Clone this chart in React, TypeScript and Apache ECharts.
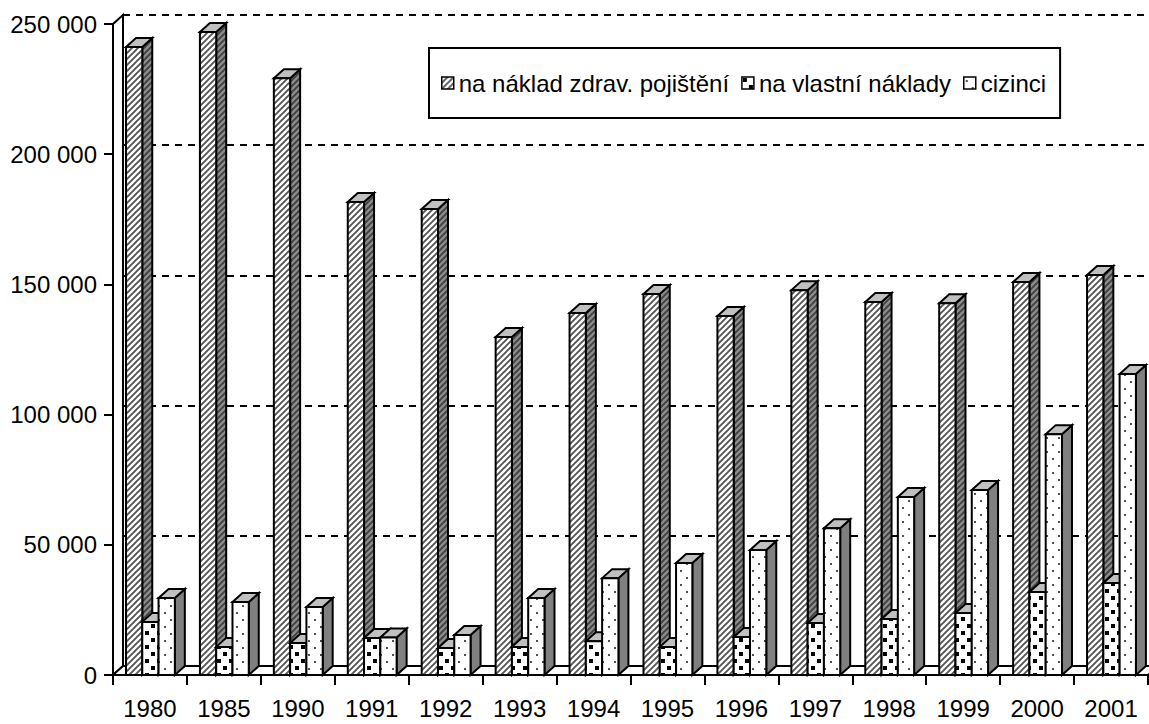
import React, { useEffect, useRef } from 'react';
import * as echarts from 'echarts';

const categories = ['1980', '1985', '1990', '1991', '1992', '1993', '1994', '1995', '1996', '1997', '1998', '1999', '2000', '2001'];
const seriesNames = ['na náklad zdrav. pojištění', 'na vlastní náklady', 'cizinci'];
const insured = [241200, 246900, 229200, 181600, 179000, 129800, 139000, 146300, 137900, 147800, 143200, 142800, 150900, 153600];
const ownCost = [20400, 10800, 12300, 14200, 10400, 10800, 13000, 10800, 14600, 20000, 21500, 23800, 31900, 35300];
const foreigners = [29600, 28000, 26100, 14400, 15400, 29600, 37200, 43000, 48000, 56400, 68400, 71000, 92500, 115600];
const yMin = 0;
const yMax = 250000;
const yInterval = 50000;

const DX = 10;
const DY = -9;
const GAP = 13 / 74;
const BW = 16.3 / 74;
const SANS = "'Liberation Sans', Arial, sans-serif";

function makePattern(w: number, h: number, draw: (ctx: CanvasRenderingContext2D) => void) {
  const c = document.createElement('canvas');
  c.width = w;
  c.height = h;
  const ctx = c.getContext('2d') as CanvasRenderingContext2D;
  draw(ctx);
  return { image: c.toDataURL(), repeat: 'repeat', imageWidth: w, imageHeight: h } as any;
}

function hatch(bg: string, fg: string) {
  return makePattern(6, 6, (ctx) => {
    ctx.fillStyle = bg;
    ctx.fillRect(0, 0, 6, 6);
    ctx.strokeStyle = fg;
    ctx.lineWidth = 1.9;
    ctx.beginPath();
    ctx.moveTo(-1, 7);
    ctx.lineTo(7, -1);
    ctx.moveTo(-1, 1);
    ctx.lineTo(1, -1);
    ctx.moveTo(5, 7);
    ctx.lineTo(7, 5);
    ctx.stroke();
  });
}

function squares(bg: string, fg: string) {
  return makePattern(12, 14, (ctx) => {
    ctx.fillStyle = bg;
    ctx.fillRect(0, 0, 12, 14);
    ctx.fillStyle = fg;
    ctx.fillRect(1, 1, 4, 4);
    ctx.fillRect(7, 8, 4, 4);
  });
}

function dots(bg: string, fg: string) {
  return makePattern(12, 14, (ctx) => {
    ctx.fillStyle = bg;
    ctx.fillRect(0, 0, 12, 14);
    ctx.fillStyle = fg;
    ctx.fillRect(2, 3, 2, 2);
    ctx.fillRect(8, 10, 2, 2);
  });
}

function makeBarRender(k: number, pats: { front: any; side: any; top: any }) {
  return (params: any, api: any) => {
    const ci = api.value(0);
    const v = api.value(1);
    const base = api.coord([ci, 0]);
    const top = api.coord([ci, v]);
    const band = api.size([1, 0])[0];
    const w = band * BW;
    const x0 = base[0] - band / 2 + band * GAP + k * w;
    const x1 = x0 + w;
    const y0 = top[1];
    const yb = base[1];
    const stroke = { stroke: '#000', lineWidth: 2, lineJoin: 'miter' };
    return {
      type: 'group',
      children: [
        {
          type: 'polygon',
          shape: { points: [[x1, y0], [x1 + DX, y0 + DY], [x1 + DX, yb + DY], [x1, yb]] },
          style: { fill: pats.side, ...stroke },
        },
        {
          type: 'polygon',
          shape: { points: [[x0, y0], [x0 + DX, y0 + DY], [x1 + DX, y0 + DY], [x1, y0]] },
          style: { fill: pats.top, ...stroke },
        },
        {
          type: 'rect',
          shape: { x: x0, y: y0, width: w, height: yb - y0 },
          style: { fill: pats.front, ...stroke },
        },
      ],
    };
  };
}

export default function App() {
  const ref = useRef<HTMLDivElement>(null);
  useEffect(() => {
    if (!ref.current) return;
    const chart = echarts.init(ref.current, null, { renderer: 'svg' });

    const p1 = { front: hatch('#ffffff', '#555555'), side: hatch('#8c8c8c', '#404040'), top: '#c0c0c0' };
    const p2 = { front: squares('#ffffff', '#000000'), side: squares('#808080', '#000000'), top: '#c0c0c0' };
    const p3 = { front: dots('#ffffff', '#505050'), side: '#808080', top: '#c0c0c0' };
    const pats = [p1, p2, p3];
    const values = [insured, ownCost, foreigners];

    const frameRender = (params: any) => {
      const cs = params.coordSys;
      const xl = cs.x;
      const xr = cs.x + cs.width;
      const yt = cs.y;
      const yb = cs.y + cs.height;
      const st = { stroke: '#000', lineWidth: 2, fill: '#fff' };
      return {
        type: 'group',
        children: [
          {
            type: 'polygon',
            shape: { points: [[xl, yb], [xl, yt], [xl + DX, yt + DY], [xl + DX, yb + DY]] },
            style: st,
          },
          {
            type: 'polygon',
            shape: { points: [[xl, yb], [xr, yb], [xr + DX, yb + DY], [xl + DX, yb + DY]] },
            style: st,
          },
        ],
      };
    };

    const option: any = {
      animation: false,
      backgroundColor: '#ffffff',
      grid: [
        { left: 113, top: 24, width: 1035, height: 651 },
        { left: 113 + DX, top: 24 + DY, width: 1035, height: 651 },
      ],
      legend: {
        data: seriesNames,
        left: 429,
        top: 48,
        orient: 'horizontal',
        padding: [23, 14, 23, 12],
        itemGap: 12,
        itemWidth: 12,
        itemHeight: 12,
        icon: 'rect',
        borderColor: '#000',
        borderWidth: 2,
        borderRadius: 0,
        backgroundColor: '#fff',
        textStyle: { fontSize: 24, color: '#000', fontFamily: SANS },
        itemStyle: { borderColor: '#000', borderWidth: 1.5 },
      },
      xAxis: [
        {
          type: 'category',
          gridIndex: 0,
          data: categories,
          boundaryGap: true,
          axisLine: { show: true, lineStyle: { color: '#000', width: 2 } },
          axisTick: { show: true, alignWithLabel: false, length: 10, lineStyle: { color: '#000', width: 2 } },
          axisLabel: { color: '#000', fontSize: 24, fontFamily: SANS, margin: 21, interval: 0, hideOverlap: false },
          splitLine: { show: false },
        },
        {
          type: 'category',
          gridIndex: 1,
          data: categories,
          show: false,
        },
      ],
      yAxis: [
        {
          type: 'value',
          gridIndex: 0,
          min: yMin,
          max: yMax,
          interval: yInterval,
          axisLine: { show: true, lineStyle: { color: '#000', width: 2 } },
          axisTick: { show: true, length: 9, lineStyle: { color: '#000', width: 2 } },
          axisLabel: {
            color: '#000',
            fontSize: 24,
            fontFamily: SANS,
            margin: 16,
            formatter: (v: number) => (v === 0 ? '0' : `${Math.round(v / 1000)} 000`),
          },
          splitLine: { show: false },
        },
        {
          type: 'value',
          gridIndex: 1,
          min: yMin,
          max: yMax,
          interval: yInterval,
          axisLine: { show: true, lineStyle: { color: '#000', width: 2 } },
          axisTick: { show: false },
          axisLabel: { show: false },
          splitLine: { show: true, lineStyle: { color: '#000', width: 2, type: [7, 6] } },
        },
      ],
      series: [
        {
          type: 'custom',
          name: 'frame',
          xAxisIndex: 0,
          yAxisIndex: 0,
          z: 1,
          silent: true,
          data: [[0, 0]],
          renderItem: frameRender,
        },
        ...seriesNames.map((name, k) => ({
          type: 'custom',
          name,
          xAxisIndex: 0,
          yAxisIndex: 0,
          z: 2,
          itemStyle: { color: pats[k].front, borderColor: '#000', borderWidth: 1.5 },
          encode: { x: 0, y: 1 },
          data: values[k].map((v, i) => [i, v]),
          renderItem: makeBarRender(k, pats[k]),
        })),
      ],
    };
    chart.setOption(option);
    return () => chart.dispose();
  }, []);
  return <div ref={ref} style={{ position: 'fixed', left: 0, top: 0, width: 1149, height: 724, background: '#fff' }} />;
}
